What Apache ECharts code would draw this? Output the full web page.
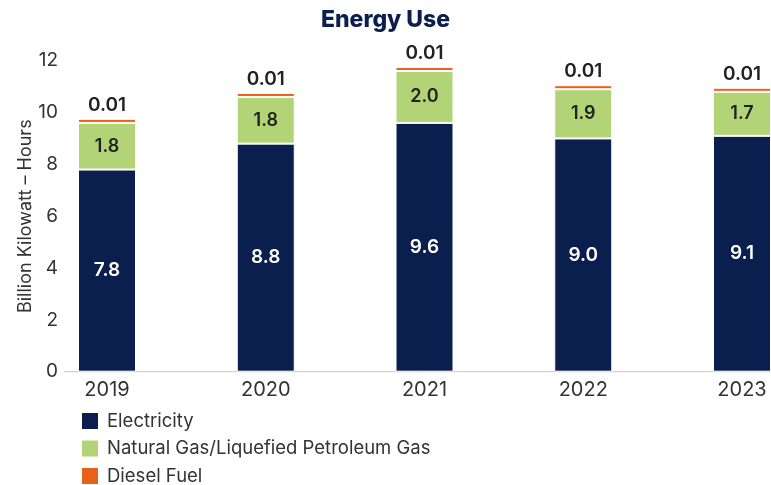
<!DOCTYPE html>
<html>
<head>
    <meta charset="utf-8">
    <title>Energy Use</title>
    <script src="https://cdn.jsdelivr.net/npm/echarts@6/dist/echarts.min.js"></script>
    <style>
        body { margin: 0; }
        #main { width: 771px; height: 485px; }
    </style>
</head>
<body>
    <div id="main"></div>
    <script type="text/javascript">
        var years = ['2019', '2020', '2021', '2022', '2023'];
        var electricity = [7.8, 8.8, 9.6, 9.0, 9.1];
        var naturalGas = [1.8, 1.8, 2.0, 1.9, 1.7];
        var diesel = [0.01, 0.01, 0.01, 0.01, 0.01];
        var yTicks = [0, 2, 4, 6, 8, 10, 12];

        var font = 'Inter, "Noto Sans", sans-serif';
        var navy = '#0b1f4f';
        var green = '#b2d376';
        var orange = '#e8611a';

        var myChart = echarts.init(document.getElementById('main'));

        var option = {
            textStyle: { fontFamily: font },
            title: {
                text: 'Energy Use',
                left: 'center',
                top: 4,
                textStyle: { fontSize: 23, fontWeight: 800, color: navy, fontFamily: font }
            },
            legend: {
                orient: 'vertical',
                left: 80,
                top: 411,
                height: 100,
                padding: 0,
                itemWidth: 18,
                itemHeight: 18,
                itemGap: 7.5,
                icon: 'rect',
                textStyle: { fontSize: 18.5, color: '#333', fontFamily: font, padding: [0, 0, 0, 3] },
                data: ['Electricity', 'Natural Gas/Liquefied Petroleum Gas', 'Diesel Fuel']
            },
            grid: { left: 107, right: 29, top: 60.7, bottom: 113.3 },
            xAxis: {
                type: 'category',
                data: years,
                boundaryGap: false,
                axisLine: { show: false },
                axisTick: { show: false },
                axisLabel: { fontSize: 20, color: '#333', margin: 8, fontFamily: font }
            },
            yAxis: {
                type: 'value',
                min: yTicks[0],
                max: yTicks[yTicks.length - 1],
                interval: 2,
                name: 'Billion Kilowatt – Hours',
                nameLocation: 'middle',
                nameGap: 72,
                nameMoveOverlap: false,
                nameTextStyle: { fontSize: 18, color: '#333', fontFamily: font },
                axisLine: { show: false },
                axisTick: { show: false },
                splitLine: { show: false },
                axisLabel: { fontSize: 19, color: '#333', margin: 49, fontFamily: font }
            },
            series: [
                {
                    name: 'Electricity',
                    type: 'bar',
                    stack: 'total',
                    data: electricity,
                    barWidth: 58,
                    itemStyle: { color: navy, borderColor: '#fff', borderWidth: 1 },
                    label: {
                        show: true,
                        position: 'inside',
                        color: '#fff',
                        fontSize: 19,
                        fontWeight: 600,
                        fontFamily: font,
                        formatter: function (p) { return p.value.toFixed(1); }
                    }
                },
                {
                    name: 'Natural Gas/Liquefied Petroleum Gas',
                    type: 'bar',
                    stack: 'total',
                    data: naturalGas,
                    barWidth: 58,
                    itemStyle: { color: green, borderColor: '#fff', borderWidth: 1 },
                    label: {
                        show: true,
                        position: 'inside',
                        color: '#222',
                        fontSize: 18,
                        fontWeight: 600,
                        fontFamily: font,
                        formatter: function (p) { return p.value.toFixed(1); }
                    }
                },
                {
                    name: 'Diesel Fuel',
                    type: 'bar',
                    stack: 'total',
                    data: diesel,
                    barWidth: 58,
                    barMinHeight: 4,
                    itemStyle: { color: orange, borderColor: '#fff', borderWidth: 1 },
                    label: {
                        show: true,
                        position: 'top',
                        distance: 4,
                        color: '#222',
                        fontSize: 19,
                        fontWeight: 600,
                        fontFamily: font,
                        formatter: function (p) { return p.value.toFixed(2); }
                    }
                }
            ]
        };

        myChart.setOption(option);

        // x axis baseline spans wider than the bar grid
        var y0 = myChart.convertToPixel({ yAxisIndex: 0 }, 0);
        myChart.setOption({
            graphic: [{
                type: 'line',
                shape: { x1: 64, y1: y0, x2: 771, y2: y0 },
                style: { stroke: '#c8c8c8', lineWidth: 1 },
                z: 0
            }]
        });
    </script>
</body>
</html>
